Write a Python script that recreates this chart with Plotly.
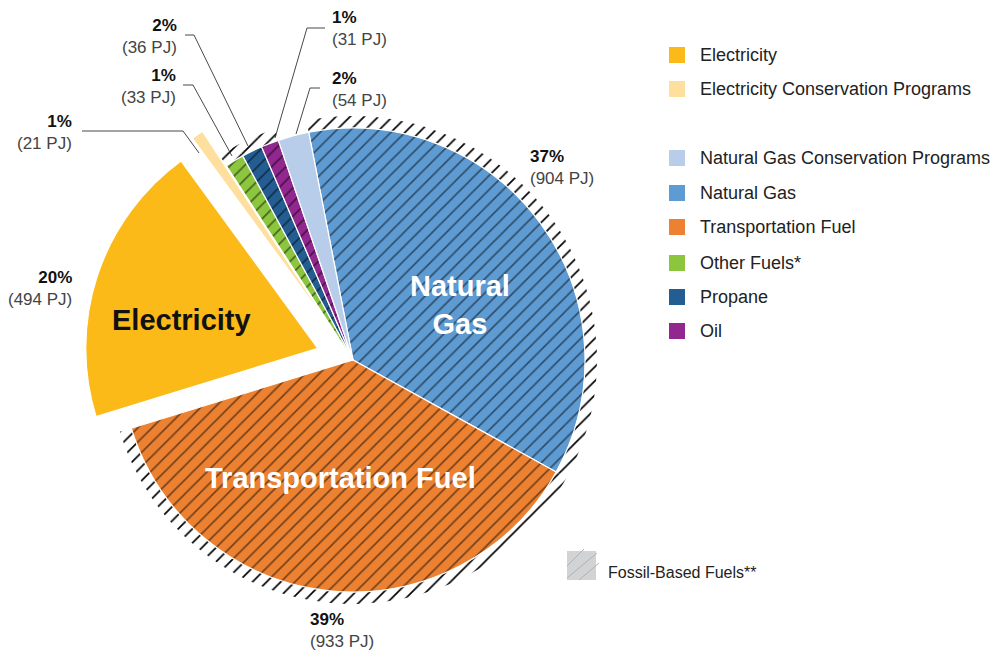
import plotly.graph_objects as go

# ---- data (clockwise order around the pie) ----
labels = ["Natural Gas", "Transportation Fuel", "Electricity", "Electricity Conservation Programs",
          "Other Fuels*", "Propane", "Oil", "Natural Gas Conservation Programs"]
values_pj = [904, 933, 494, 21, 33, 36, 31, 54]
pct_text = ["37%", "39%", "20%", "1%", "1%", "2%", "1%", "2%"]
colors = ["#5E9BD3", "#EC8131", "#FBBA17", "#FEDF9E", "#8CC63F", "#245D92", "#92278F", "#B8CDE9"]
fossil = [True, True, False, False, True, True, True, False]
pulls = [0, 0, 0.16, 0.18, 0, 0, 0, 0]

legend_order = ["Electricity", "Electricity Conservation Programs", None,
                "Natural Gas Conservation Programs", "Natural Gas", "Transportation Fuel",
                "Other Fuels*", "Propane", "Oil"]
fossil_legend_text = "Fossil-Based Fuels**"

W, H = 994, 654
FONT = "Liberation Sans, Arial, sans-serif"


def px(x):
    return x / W


def py(y):
    return 1 - y / H


cx, cy, r = 353, 360, 232
maxpull = max(pulls)
half = r * (1 + maxpull)
ring = 12

fig = go.Figure()

# hatch ring behind (extends hatching slightly past the pie edge)
fig.add_trace(go.Pie(
    labels=labels, values=values_pj, sort=False, direction="clockwise", rotation=-11,
    marker=dict(colors=["white" if f else "rgba(0,0,0,0)" for f in fossil],
                line=dict(width=0),
                pattern=dict(shape=["/" if f else "" for f in fossil], fgcolor="black",
                             size=10, solidity=0.17, fillmode="replace")),
    textinfo="none", hoverinfo="skip", showlegend=False,
    domain=dict(x=[px(cx - r - ring), px(cx + r + ring)], y=[py(cy + r + ring), py(cy - r - ring)]),
))

fig.add_trace(go.Pie(
    labels=labels, values=values_pj, sort=False, direction="clockwise", rotation=-11,
    pull=pulls,
    marker=dict(colors=colors, line=dict(color="white", width=1.2),
                pattern=dict(shape=["/" if f else "" for f in fossil], fgcolor="black",
                             size=10, solidity=0.17, fillmode="overlay")),
    textinfo="none", hoverinfo="label+value", showlegend=False,
    domain=dict(x=[px(cx - half), px(cx + half)], y=[py(cy + half), py(cy - half)]),
))

annotations = []
shapes = []


def ann(x, y, text, size, color, anchor="center"):
    annotations.append(dict(
        x=px(x), y=py(y), xref="paper", yref="paper", xanchor=anchor, yanchor="middle",
        align="center" if anchor == "center" else anchor,
        text=text, showarrow=False, font=dict(family=FONT, size=size, color=color)))


# big in-slice labels
ann(181, 320, "<b>Electricity</b>", 29, "#111")
ann(460, 305, "<b>Natural<br>Gas</b>", 29, "white")
ann(340, 478, "<b>Transportation Fuel</b>", 29, "white")

# percentage / PJ labels: (index, x, y, anchor)
label_pos = [
    (0, 528, 167, "left"),
    (1, 308, 630, "left"),
    (2, 74, 288, "right"),
    (3, 74, 133, "right"),
    (4, 178, 86, "right"),
    (5, 179, 37, "right"),
    (6, 330, 28, "left"),
    (7, 330, 89, "left"),
]
for i, x, y, anc in label_pos:
    ann(x, y, f"<b><span style='color:#111'>{pct_text[i]}</span></b><br>({values_pj[i]} PJ)",
        17, "#444", anchor=anc)

# leader lines
leaders = [
    [(82, 131), (183, 131), (199, 153)],
    [(183, 85), (193, 85), (232, 156)],
    [(185, 35), (194, 35), (248, 146)],
    [(325, 28), (307, 28), (275, 138)],
    [(320, 88), (310, 88), (296, 134)],
]
for pts in leaders:
    path = "M " + " L ".join(f"{px(a)},{py(b)}" for a, b in pts)
    shapes.append(dict(type="path", xref="paper", yref="paper", path=path,
                       line=dict(color="#333", width=0.9)))

# custom legend
color_of = dict(zip(labels, colors))
legend_y = [55, 89, None, 158, 193, 227, 263, 297, 331]
for name, y in zip(legend_order, legend_y):
    if name is None:
        continue
    shapes.append(dict(type="rect", xref="paper", yref="paper",
                       x0=px(669), x1=px(685), y0=py(y + 8), y1=py(y - 8),
                       fillcolor=color_of[name], line=dict(width=0)))
    ann(698, y, name, 18, "#222", anchor="left")

# fossil legend swatch
shapes.append(dict(type="rect", xref="paper", yref="paper", x0=px(567), x1=px(596), y0=py(580), y1=py(551),
                   fillcolor="#D1D3D4", line=dict(width=0)))
for (a, b), (c, d) in [((567, 566), (584, 549)), ((567, 578), (597, 553)), ((579, 580), (599, 563))]:
    shapes.append(dict(type="line", xref="paper", yref="paper", x0=px(a), y0=py(b), x1=px(c), y1=py(d),
                       line=dict(color="#B0B2B4", width=1)))
ann(606, 572, fossil_legend_text, 16, "#222", anchor="left")

fig.update_layout(
    width=W, height=H, margin=dict(l=0, r=0, t=0, b=0),
    paper_bgcolor="white", plot_bgcolor="white",
    annotations=annotations, shapes=shapes, showlegend=False,
)

fig.write_html("out.html", config={"displayModeBar": False},
               post_script="document.body.style.margin='0px';")
